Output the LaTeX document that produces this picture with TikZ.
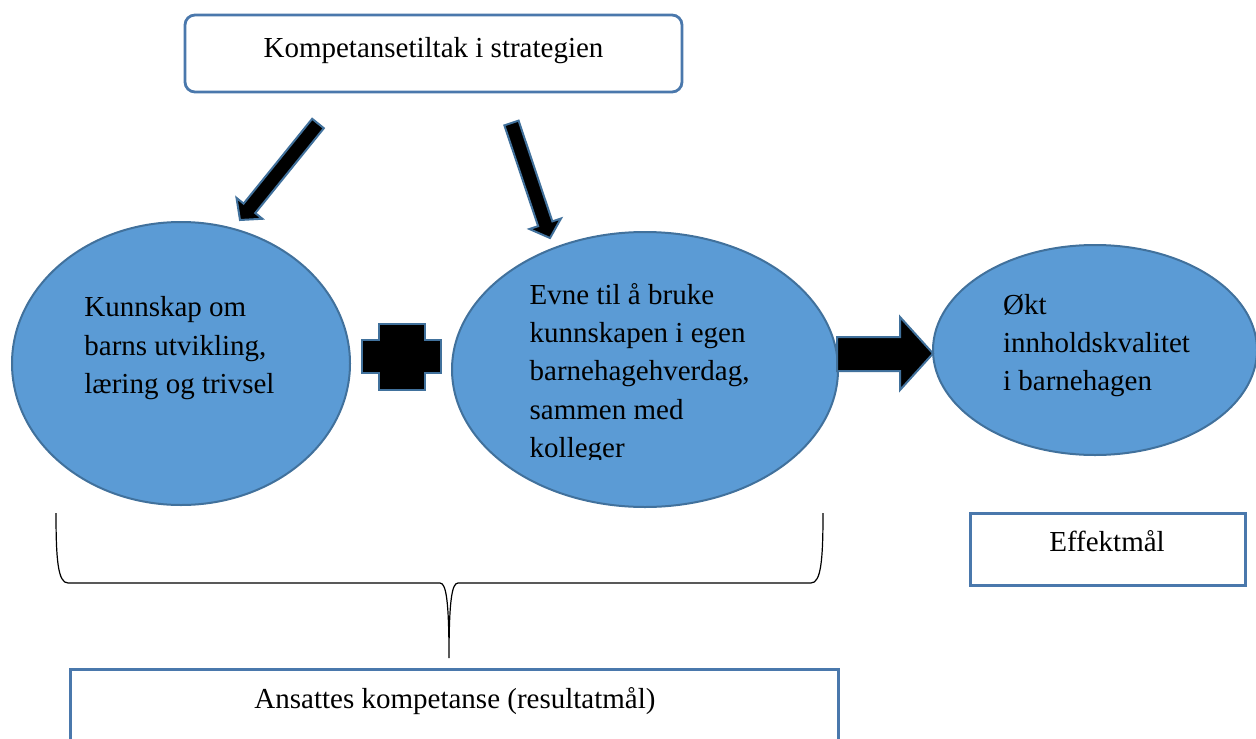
\documentclass[tikz,border=0pt]{standalone}
\usepackage{fontspec}
\setmainfont{Liberation Serif}
\usetikzlibrary{calc,shapes.geometric}
\definecolor{ellfill}{HTML}{5B9BD5}
\definecolor{ellline}{HTML}{41719C}
\definecolor{boxline}{HTML}{4A78AC}
\newcommand{\diagarrow}[2]{%
  \coordinate (J) at ($(#2)!7.5pt!(#1)$);
  \draw[blockarrow] ($(#1)!3.75pt!90:(#2)$) -- ($(J)!3.75pt!90:(#2)$) -- ($(J)!8.3pt!90:(#2)$) -- (#2)
    -- ($(J)!8.3pt!-90:(#2)$) -- ($(J)!3.75pt!-90:(#2)$) -- ($(#1)!3.75pt!-90:(#2)$) -- cycle;}
\begin{document}
\begin{tikzpicture}[x=0.5pt,y=-0.5pt,
  txt/.style={font=\fontsize{14.5}{19.2}\selectfont, inner sep=0pt},
  ell/.style={ellipse, draw=ellline, line width=1pt, fill=ellfill, inner sep=0pt},
  box/.style={draw=boxline, line width=1.4pt, fill=white, inner sep=0pt},
  blockarrow/.style={fill=black, draw=ellline, line width=1pt, line join=miter},
  brace/.style={draw=black, line width=0.6pt}]
\clip (0,0) rectangle (1256,738);
\fill[white] (0,0) rectangle (1256,738);

% top box
\node[box, rounded corners=5pt, minimum width=248.5pt, minimum height=38.5pt] (top) at (433.5,53.5) {};
\node[txt, anchor=base] (toptxt) at (433.5,58) {Kompetansetiltak i strategien};

% ellipses
\node[ell, minimum width=169pt, minimum height=141.5pt] (kunn) at (181,363.5) {};
\node[ell, minimum width=193pt, minimum height=137.5pt] (evne) at (645,369.5) {};
\node[ell, minimum width=162pt, minimum height=105pt] (okt) at (1095,350) {};

\node[txt, anchor=base west] (kunntxt) at (84,316.7)
  {\begin{tabular}[t]{@{}l@{}}Kunnskap om\\barns utvikling,\\læring og trivsel\end{tabular}};
\begin{scope}
  \clip (500,250) rectangle (820,459);
  \node[txt, anchor=base west] (evnetxt) at (529.3,304)
    {\begin{tabular}[t]{@{}l@{}}Evne til å bruke\\kunnskapen i egen\\barnehagehverdag,\\sammen med\\kolleger\end{tabular}};
\end{scope}
\node[txt, anchor=base west] (okttxt) at (1002.7,314)
  {\begin{tabular}[t]{@{}l@{}}Økt\\innholdskvalitet\\i barnehagen\end{tabular}};

% diagonal block arrows
\coordinate (a1t) at (318,123.5);
\coordinate (a1p) at (240,220);
\coordinate (a2t) at (511.5,123);
\coordinate (a2p) at (550,238);
\diagarrow{a1t}{a1p}
\diagarrow{a2t}{a2p}

% plus sign
\draw[blockarrow] (379,324) -- (425,324) -- (425,340) -- (441,340) -- (441,373) -- (425,373)
  -- (425,390) -- (379,390) -- (379,373) -- (362,373) -- (362,340) -- (379,340) -- cycle;

% right block arrow
\draw[blockarrow] (837,337) -- (900,337) -- (900,317) -- (933,353.5) -- (900,390) -- (900,371)
  -- (837,371) -- cycle;

% brace
\coordinate (bl) at (56,513);
\coordinate (br) at (823,513);
\coordinate (bt) at (449,658);
\draw[brace] (bl) .. controls (56,560) and (58,583) .. (68,583) -- (440,583)
  .. controls (446,583) and (449,600) .. (bt)
  .. controls (449,600) and (452,583) .. (458,583) -- (811,583)
  .. controls (821,583) and (823,560) .. (br);

% Effektmål
\node[box, line width=1.5pt, minimum width=137.5pt, minimum height=36pt] (eff) at (1107.5,549) {};
\node[txt, anchor=base] (efftxt) at (1107,551.7) {Effektmål};

% bottom box
\node[box, line width=1.5pt, minimum width=384pt, minimum height=46pt] (ans) at (454,715) {};
\node[txt, anchor=base] (anstxt) at (455,708) {Ansattes kompetanse (resultatmål)};
\end{tikzpicture}
\end{document}
